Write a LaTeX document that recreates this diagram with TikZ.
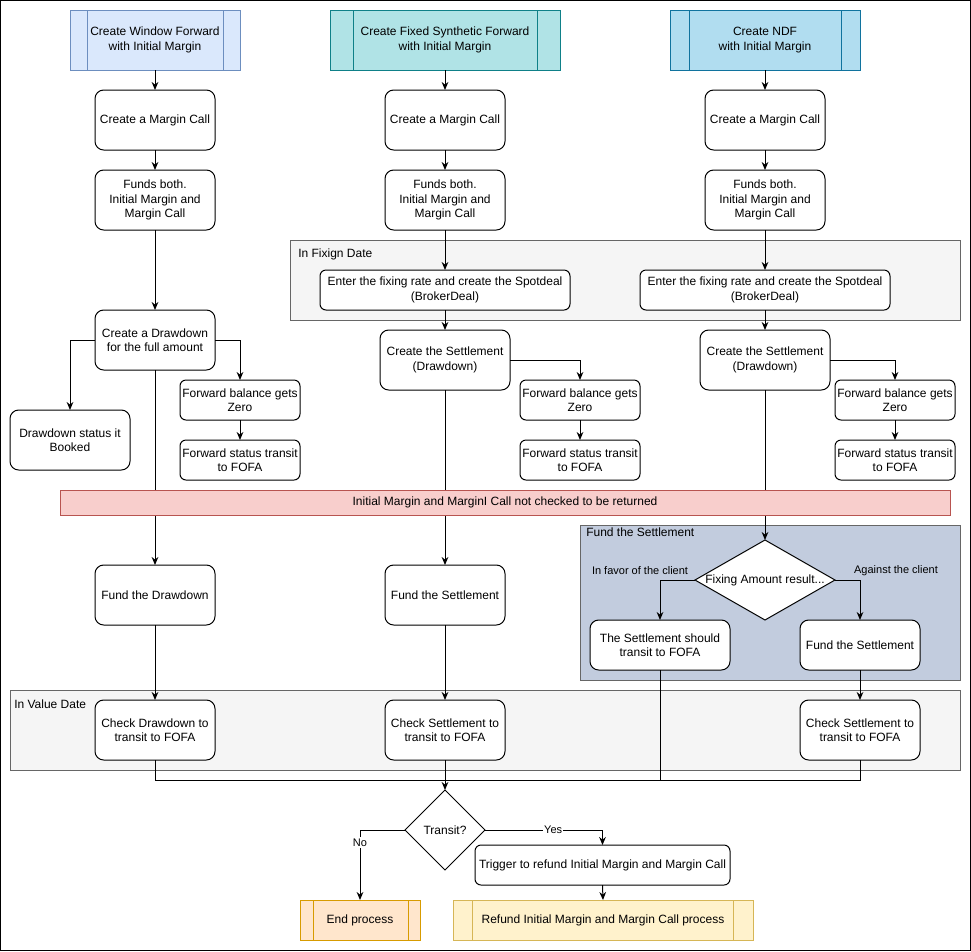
\documentclass[tikz,border=0pt]{standalone}
\usepackage{fontspec}
\setmainfont{Liberation Sans}
\usetikzlibrary{arrows.meta,calc,shapes.geometric}
\definecolor{bluef}{HTML}{DAE8FC}\definecolor{bluel}{HTML}{6C8EBF}
\definecolor{tealf}{HTML}{B0E3E6}\definecolor{teall}{HTML}{0E8088}
\definecolor{skyf}{HTML}{B1DDF0}\definecolor{skyl}{HTML}{10739E}
\definecolor{grpf}{HTML}{F5F5F5}\definecolor{grpl}{HTML}{666666}
\definecolor{slatef}{HTML}{C2CCDE}
\definecolor{redf}{HTML}{F8CECC}\definecolor{redl}{HTML}{B85450}
\definecolor{orgf}{HTML}{FFE6CC}\definecolor{orgl}{HTML}{D79B00}
\definecolor{yelf}{HTML}{FFF2CC}\definecolor{yell}{HTML}{D6B656}
\begin{document}
\begin{tikzpicture}[x=0.75pt,y=-0.75pt,
  font=\fontsize{9}{10.8}\selectfont,
  box/.style={draw=black,fill=white,rounded corners=6.5pt,align=center,inner sep=1pt,outer sep=0pt,minimum width=90pt,minimum height=45pt,line width=0.75pt},
  sbox/.style={box,rounded corners=4.5pt,minimum height=30pt},
  proc/.style={align=center,inner sep=0pt,outer sep=0pt,minimum height=45pt,line width=0.75pt},
  grp/.style={draw=grpl,fill=grpf,inner sep=0pt,outer sep=0pt,line width=0.75pt},
  dmd/.style={diamond,draw=black,fill=white,inner sep=0pt,outer sep=0pt,line width=0.75pt},
  arr/.style={-{Stealth[length=6pt,width=5pt]},line width=0.75pt},
  ln/.style={line width=0.75pt},
  lbl/.style={font=\fontsize{8.25}{9.5}\selectfont},
  glbl/.style={anchor=west,inner sep=0pt},
]
\useasboundingbox (0,0) rectangle (971,951);
\draw[line width=0.9pt] (0.6,0.6) rectangle (970.4,950.4);

% groups
\draw[grp] (290,240) rectangle (960,320);
\node[glbl] (gfix) at (298,254) {In Fixign Date};
\draw[grp,fill=slatef] (580,525) rectangle (960,680);
\node[glbl] (gfund) at (586,532) {Fund the Settlement};
\draw[grp] (10,690) rectangle (960,770);
\node[glbl] (gval) at (14,704) {In Value Date};

% top process boxes
\node[proc,draw=bluel,fill=bluef,minimum width=127.5pt] (w1) at (155,40) {Create Window Forward\\with Initial Margin};
\draw[bluel,line width=0.75pt] (87,10) -- (87,70) (223,10) -- (223,70);
\node[proc,draw=teall,fill=tealf,minimum width=172.5pt] (w2) at (445,40) {Create Fixed Synthetic Forward\\with Initial Margin};
\draw[teall,line width=0.75pt] (353,10) -- (353,70) (537,10) -- (537,70);
\node[proc,draw=skyl,fill=skyf,minimum width=142.5pt] (w3) at (765,40) {Create NDF\\with Initial Margin};
\draw[skyl,line width=0.75pt] (689,10) -- (689,70) (841,10) -- (841,70);

% column 1
\node[box] (mc1) at (155,120) {Create a Margin Call};
\node[box] (fb1) at (155,200) {Funds both.\\Initial Margin and\\Margin Call};
\node[box] (dd1) at (155,340) {Create a Drawdown\\for the full amount};
\node[box] (dbk) at (70,440) {Drawdown status it\\Booked};
\node[sbox] (fz1) at (240,400) {Forward balance gets\\Zero};
\node[sbox] (fs1) at (240,460) {Forward status transit\\to FOFA};
\node[box] (fd1) at (155,595) {Fund the Drawdown};
\node[box] (cd1) at (155,730) {Check Drawdown to\\transit to FOFA};

% column 2
\node[box] (mc2) at (445,120) {Create a Margin Call};
\node[box] (fb2) at (445,200) {Funds both.\\Initial Margin and\\Margin Call};
\node[sbox,minimum width=187.5pt] (fx2) at (445,290) {Enter the fixing rate and create the Spotdeal\\(BrokerDeal)};
\node[box,minimum width=97.5pt] (st2) at (445,360) {Create the Settlement\\(Drawdown)};
\node[sbox] (fz2) at (580,400) {Forward balance gets\\Zero};
\node[sbox] (fs2) at (580,460) {Forward status transit\\to FOFA};
\node[box] (fd2) at (445,595) {Fund the Settlement};
\node[box] (cs2) at (445,730) {Check Settlement to\\transit to FOFA};

% column 3
\node[box] (mc3) at (765,120) {Create a Margin Call};
\node[box] (fb3) at (765,200) {Funds both.\\Initial Margin and\\Margin Call};
\node[sbox,minimum width=187.5pt] (fx3) at (765,290) {Enter the fixing rate and create the Spotdeal\\(BrokerDeal)};
\node[box,minimum width=97.5pt] (st3) at (765,360) {Create the Settlement\\(Drawdown)};
\node[sbox] (fz3) at (895,400) {Forward balance gets\\Zero};
\node[sbox] (fs3) at (895,460) {Forward status transit\\to FOFA};
\node[dmd,minimum width=105pt,minimum height=60pt] (dia) at (765,580) {};
\node (diat) at (dia) {Fixing Amount result...};
\node[box,minimum width=105pt,minimum height=37.5pt] (sft) at (660,645) {The Settlement should\\transit to FOFA};
\node[box,minimum height=37.5pt] (fd3) at (860,645) {Fund the Settlement};
\node[box] (cs3) at (860,730) {Check Settlement to\\transit to FOFA};
\node[lbl] (lfav) at (640,571) {In favor of the client};
\node[lbl] (lag) at (896,571) {Against the client};

% bottom
\coordinate (m) at (445,780);
\node[dmd,minimum width=60pt,minimum height=60pt] (tr) at (445,830) {};
\node (trt) at (tr) {Transit?};
\node[sbox,minimum width=191.25pt] (trig) at (602.5,865) {Trigger to refund Initial Margin and Margin Call};
\node[proc,draw=orgl,fill=orgf,minimum width=90pt,minimum height=30pt] (endp) at (360,920) {End process};
\draw[orgl,line width=0.75pt] (313,900) -- (313,940) (408,900) -- (408,940);
\node[proc,draw=yell,fill=yelf,minimum width=225pt,minimum height=30pt] (ref) at (603,920) {Refund Initial Margin and Margin Call process};
\draw[yell,line width=0.75pt] (472,900) -- (472,940) (733,900) -- (733,940);

% connectors column 1
\draw[arr] (w1.south) -- (mc1.north);
\draw[arr] (mc1.south) -- (fb1.north);
\draw[arr] (fb1.south) -- (dd1.north);
\draw[arr] (dd1.west) -| (dbk.north);
\draw[arr] (dd1.east) -| (fz1.north);
\draw[arr] (fz1.south) -- (fs1.north);
\draw[arr] (dd1.south) -- (fd1.north);
\draw[arr] (fd1.south) -- (cd1.north);
% column 2
\draw[arr] (w2.south) -- (mc2.north);
\draw[arr] (mc2.south) -- (fb2.north);
\draw[arr] (fb2.south) -- (fx2.north);
\draw[arr] (fx2.south) -- (st2.north);
\draw[arr] (st2.east) -| (fz2.north);
\draw[arr] (fz2.south) -- (fs2.north);
\draw[arr] (st2.south) -- (fd2.north);
\draw[arr] (fd2.south) -- (cs2.north);
% column 3
\draw[arr] (w3.south) -- (mc3.north);
\draw[arr] (mc3.south) -- (fb3.north);
\draw[arr] (fb3.south) -- (fx3.north);
\draw[arr] (fx3.south) -- (st3.north);
\draw[arr] (st3.east) -| (fz3.north);
\draw[arr] (fz3.south) -- (fs3.north);
\draw[arr] (st3.south) -- (dia.north);
\draw[arr] (dia.west) -| (sft.north);
\draw[arr] (dia.east) -| (fd3.north);
\draw[arr] (fd3.south) -- (cs3.north);
% merge
\draw[ln] (cd1.south) |- (m);
\draw[ln] (cs3.south) |- (m);
\draw[ln] (sft.south) |- (m);
\draw[arr] (cs2.south) -- (tr.north);
% decision
\draw[arr] (tr.west) -| (endp.north) node[pos=0.59,fill=white,inner sep=1pt,lbl] (lno) {No};
\draw[arr] (tr.east) -| (trig.north) node[pos=0.29,fill=white,inner sep=1pt,lbl] (lyes) {Yes};
\draw[arr] (trig.south) -- (ref.north);

% red bar on top
\node[draw=redl,fill=redf,minimum width=667.5pt,minimum height=18.75pt,inner sep=0pt,line width=0.75pt] (red) at (505,502.5) {Initial Margin and MarginI Call not checked to be returned};
\end{tikzpicture}
\end{document}
